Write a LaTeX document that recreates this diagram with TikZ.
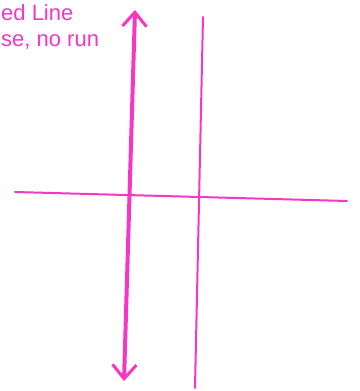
\documentclass[tikz,border=0pt]{standalone}
\usepackage{fontspec}
\setmainfont{Liberation Sans}
\usetikzlibrary{arrows.meta}
\definecolor{pinkink}{RGB}{245,55,195}
\tikzset{
  ink/.style={draw=pinkink, line cap=round},
  thickline/.style={ink, line width=4pt, {Straight Barb[length=14pt,width=24pt,line width=3pt]}-{Straight Barb[length=14pt,width=24pt,line width=3pt]}},
  thinline/.style={ink, line width=2pt},
  hline/.style={ink, line width=2pt},
  handtext/.style={text=pinkink, font=\fontsize{22}{24}\selectfont, inner sep=0pt, anchor=west}
}
\begin{document}
\begin{tikzpicture}[x=1pt,y=1pt]
\useasboundingbox (0,0) rectangle (359,391);
% text
\node[handtext] (t1) at (1,378) {ed Line};
\node[handtext] (t2) at (1,349) {se, no run};
% horizontal line
\coordinate (hl) at (15,199);
\coordinate (hr) at (347,190);
\draw[hline] (hl) -- (hr);
% thin vertical
\coordinate (vt) at (203,374);
\coordinate (vb) at (195,3);
\draw[thinline] (vt) -- (vb);
% thick double arrow
\coordinate (at) at (135,381);
\coordinate (ab) at (124,10);
\draw[thickline] (ab) -- (at);
\end{tikzpicture}
\end{document}
